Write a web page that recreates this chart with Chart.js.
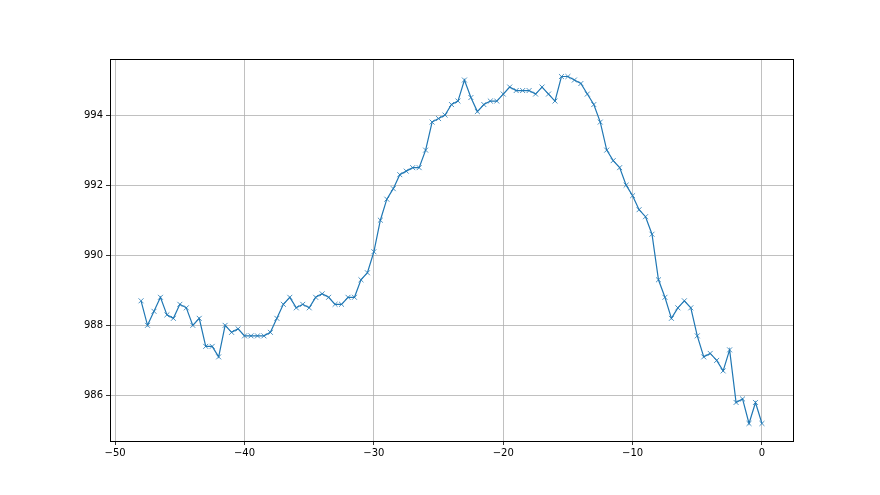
<!DOCTYPE html>
<html><head><meta charset="utf-8">
<script src="https://cdn.jsdelivr.net/npm/chart.js@4.4.1/dist/chart.umd.min.js"></script>
<style>html,body{margin:0;padding:0;background:#fff}canvas{display:block}</style>
</head><body>
<canvas id="c" width="880" height="495"></canvas>
<script>
const xStart = -48, xStep = 0.5;
const yValues = [
988.7,988.0,988.4,988.8,988.3,988.2,988.6,988.5,988.0,988.2,
987.4,987.4,987.1,988.0,987.8,987.9,987.7,987.7,987.7,987.7,
987.8,988.2,988.6,988.8,988.5,988.6,988.5,988.8,988.9,988.8,
988.6,988.6,988.8,988.8,989.3,989.5,990.1,991.0,991.6,991.9,
992.3,992.4,992.5,992.5,993.0,993.8,993.9,994.0,994.3,994.4,
995.0,994.5,994.1,994.3,994.4,994.4,994.6,994.8,994.7,994.7,
994.7,994.6,994.8,994.6,994.4,995.1,995.1,995.0,994.9,994.6,
994.3,993.8,993.0,992.7,992.5,992.0,991.7,991.3,991.1,990.6,
989.3,988.8,988.2,988.5,988.7,988.5,987.7,987.1,987.2,987.0,
986.7,987.3,985.8,985.9,985.2,985.8,985.2];
const xValues = yValues.map((_, i) => xStart + i * xStep);
const xTicks = [-50, -40, -30, -20, -10, 0];
const yTicks = [986, 988, 990, 992, 994];

const frame = {
  id: 'frame',
  afterDraw(chart) {
    const {ctx, chartArea: a} = chart;
    ctx.save();
    ctx.strokeStyle = '#000';
    ctx.lineWidth = 1;
    ctx.strokeRect(Math.round(a.left) + 0.5, Math.round(a.top) + 0.5, Math.round(a.right - a.left), Math.round(a.bottom - a.top));
    ctx.restore();
  }
};
const font = {family: 'DejaVu Sans', size: 10};
const gridCfg = {color: '#b0b0b0', lineWidth: 0.8, tickLength: 4, tickColor: '#000', tickWidth: 0.8};
new Chart(document.getElementById('c'), {
  type: 'line',
  data: {
    datasets: [{
      data: xValues.map((x, i) => ({x, y: yValues[i]})),
      borderColor: '#1f77b4',
      backgroundColor: '#1f77b4',
      borderWidth: 1.2,
      pointStyle: 'crossRot',
      pointRadius: 3.5,
      pointBorderWidth: 0.8,
      pointBorderColor: '#1f77b4',
      tension: 0
    }]
  },
  options: {
    responsive: false,
    animation: false,
    devicePixelRatio: 1,
    plugins: {legend: {display: false}, tooltip: {enabled: false}},
    layout: {padding: {top: 59, right: 87, left: 0, bottom: 0}},
    scales: {
      x: {
        type: 'linear', min: -50.4, max: 2.4,
        afterBuildTicks: s => { s.ticks = xTicks.map(v => ({value: v})); },
        afterFit: s => { s.height = 54; },
        grid: gridCfg,
        border: {display: true, color: '#000', width: 1},
        ticks: {font, color: '#000', padding: 2, maxRotation: 0,
          callback: v => String(v).replace('-', '\u2212')}
      },
      y: {
        type: 'linear', min: 984.7, max: 995.6,
        afterBuildTicks: s => { s.ticks = yTicks.map(v => ({value: v})); },
        afterFit: s => { s.width = 110; },
        grid: gridCfg,
        border: {display: true, color: '#000', width: 1},
        ticks: {font, color: '#000', padding: 3}
      }
    }
  },
  plugins: [frame]
});
</script>
</body></html>
